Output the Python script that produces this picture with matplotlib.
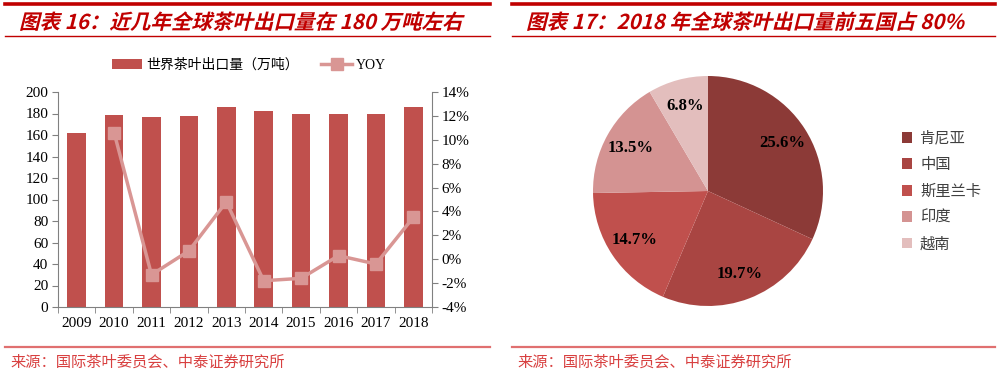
import matplotlib
matplotlib.use('Agg')
import matplotlib.pyplot as plt
from matplotlib.lines import Line2D
from matplotlib.patches import PathPatch
from matplotlib.textpath import TextPath
from matplotlib.font_manager import FontProperties
from matplotlib.transforms import Affine2D
from matplotlib.ticker import FuncFormatter, MultipleLocator

plt.rcParams['font.family'] = ['Liberation Serif', 'Noto Sans CJK SC', 'DejaVu Sans']

years = ['2009', '2010', '2011', '2012', '2013', '2014', '2015', '2016', '2017', '2018']
exports = [161.5, 178.8, 176.5, 177.5, 186.0, 182.3, 179.7, 180.0, 179.4, 185.6]
yoy = [None, 10.6, -1.3, 0.7, 4.8, -1.8, -1.6, 0.3, -0.4, 3.5]

countries = ['肯尼亚', '中国', '斯里兰卡', '印度', '越南']
shares = [25.6, 19.7, 14.7, 13.5, 6.8]
pie_colors = ['#8C3A37', '#A94542', '#C0504D', '#D49392', '#E3BEBD']

title_left = '图表 16：近几年全球茶叶出口量在 180 万吨左右'
title_right = '图表 17：2018 年全球茶叶出口量前五国占 80%'
source = '来源：国际茶叶委员会、中泰证券研究所'

W, H = 1000, 378
fig = plt.figure(figsize=(W / 100, H / 100), dpi=100)

def box(x0, y0, x1, y1):
    # pixel box -> figure fraction
    return [x0 / W, 1 - y1 / H, (x1 - x0) / W, (y1 - y0) / H]

red = '#C00000'
cjk = ['Noto Sans CJK SC', 'DejaVu Sans']

def slanted_title(s, x_px, y_px, size=20.5):
    # bold italic look: text path skewed
    tp = TextPath((0, 0), s, size=size,
                  prop=FontProperties(family='Noto Sans CJK SC', weight='bold'))
    tr = Affine2D().skew_deg(14, 0).translate(x_px, H - y_px)
    fig.add_artist(PathPatch(tp, transform=tr, color=red, lw=0))

# header / footer decorations
for x0, x1 in [(5, 490), (512, 995)]:
    fig.add_artist(Line2D([x0 / W, x1 / W], [1 - 4 / H] * 2, color=red, lw=2.6))
    fig.add_artist(Line2D([x0 / W, x1 / W], [1 - 36 / H] * 2, color=red, lw=1.0))
    fig.add_artist(Line2D([x0 / W, x1 / W], [1 - 347 / H] * 2, color='#E07070', lw=1.6))
    fig.text((x0 + 5) / W, 1 - 362 / H, source, color='#D84040', fontsize=11,
             family=cjk, va='center')
slanted_title(title_left, 19, 29)
slanted_title(title_right, 526, 29)

# bar + line chart
ax = fig.add_axes(box(58, 92, 432, 307))
x = range(len(years))
bars = ax.bar(x, exports, width=0.5, color='#C0504D', label='世界茶叶出口量（万吨）')
ax.set_xlim(-0.5, len(years) - 0.5)
ax.set_ylim(0, 200)
ax.yaxis.set_major_locator(MultipleLocator(20))
ax.set_xticks(list(x))
ax.set_xticklabels(years)
ax.set_xticks([i + 0.5 for i in range(-1, len(years))], minor=True)
ax.tick_params(axis='x', which='major', length=0, labelsize=11, pad=7)
ax.tick_params(axis='x', which='minor', length=4, color='#808080', direction='out')
ax.tick_params(axis='y', length=4, color='#808080', labelsize=11, pad=3)
for s in ['top', 'right']:
    ax.spines[s].set_visible(False)
for s in ['left', 'bottom']:
    ax.spines[s].set_color('#808080')

ax2 = ax.twinx()
xs = [i for i, v in enumerate(yoy) if v is not None]
ys = [v for v in yoy if v is not None]
ln, = ax2.plot(xs, ys, color='#D99694', lw=2.5, marker='s', markersize=8,
               label='YOY')
ax2.set_ylim(-4, 14)
ax2.yaxis.set_major_locator(MultipleLocator(2))
ax2.yaxis.set_major_formatter(FuncFormatter(lambda v, p: f'{v:.0f}%'))
ax2.tick_params(axis='y', length=4, color='#808080', labelsize=11, pad=3)
for s in ['top', 'left', 'bottom']:
    ax2.spines[s].set_visible(False)
ax2.spines['right'].set_color('#808080')

ax.legend(handles=[bars, ln], loc='center', bbox_to_anchor=(249 / W, 1 - 65 / H),
          bbox_transform=fig.transFigure, ncol=2, frameon=False,
          prop={'family': ['Liberation Serif', 'Noto Sans CJK SC'], 'size': 10},
          handlelength=2.2, columnspacing=1.6, handletextpad=0.3)

# pie chart
pax = fig.add_axes(box(593, 76, 823, 306))
wedges, texts, autotexts = pax.pie(
    shares, colors=pie_colors, startangle=90, counterclock=False,
    autopct=lambda p: '', pctdistance=0.77)
for w, a, v in zip(wedges, autotexts, shares):
    a.set_text(f'{v}%')
    a.set_fontsize(12)
    a.set_fontweight('bold')
    a.set_family('Liberation Serif')
pax.set_xlim(-1, 1)
pax.set_ylim(-1, 1)
pax.set_aspect('equal')

pax.legend(wedges, countries, loc='center left', bbox_to_anchor=(888 / W, 1 - 191 / H),
           bbox_transform=fig.transFigure, frameon=False,
           prop={'family': cjk, 'size': 11}, handlelength=0.7, handleheight=0.7,
           labelspacing=0.62, handletextpad=0.5, labelcolor='#404040')

fig.savefig('out.png', dpi=100)
